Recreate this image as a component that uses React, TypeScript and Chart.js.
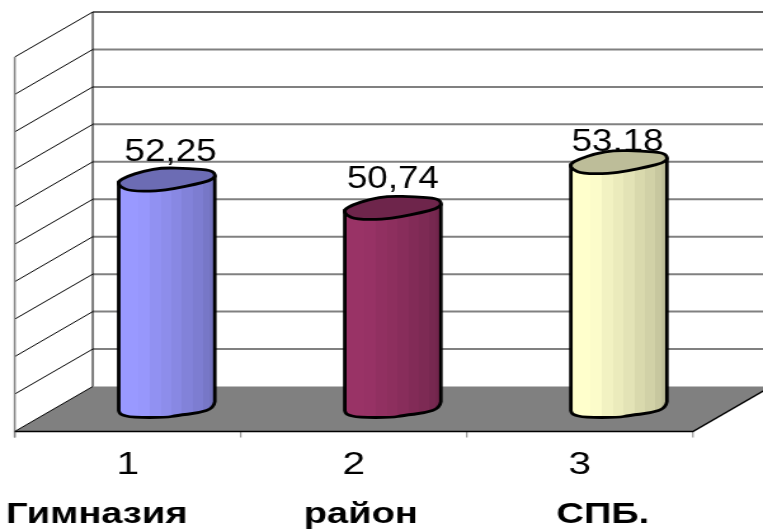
import React, { useEffect, useRef } from "react";
import { Chart, registerables } from "chart.js";

Chart.register(...registerables);

const tickLabels = ["1", "2", "3"];
const categoryNames = ["Гимназия", "район", "СПБ."];
const values = [52.25, 50.74, 53.18];
const sideColors = ["#9999FF", "#993366", "#FFFFCC"];
const rimColors = ["#6C6CB4", "#6E254B", "#BDBD99"];
const axisMin = 40;
const axisMax = 60;
const axisStep = 2;

// picture is drawn narrower, then stretched sideways, as the reference is
const OUT_W = 763;
const OUT_H = 529;
const CANVAS_W = 601;
const SX = OUT_W / CANVAS_W;
const DEPTH_X = 78 / SX;
const DEPTH_Y = 45;
const FONT = '"Liberation Sans", Arial, sans-serif';
const VALUE_TEXT_WIDTH = 72.5;

const valueLabelShift = [[3, -19], [0, -20], [-1, -11]];
const nameShift = [-31 / SX, 7 / SX, 23 / SX];

// hand-drawn looking rims: [fraction of half width, px from centre]
const topRim = [
  [-1.02, 2], [-0.84, -3], [-0.49, -8.5], [-0.08, -12], [0.47, -11], [0.94, -9.5], [1.03, -3.5],
  [0.9, 1], [0.61, 4.5], [0.16, 9], [-0.21, 11.5], [-0.76, 11.5], [-0.98, 7],
];
const bottomRim = [
  [1, -7.3], [0.98, -1], [0.67, 4], [0.2, 6.5], [0, 8.5], [-0.72, 8.5], [-0.97, 5.5], [-1, 1.7],
];
const bandStops = [0, 0.1, 0.2, 0.32, 0.44, 0.55, 0.66, 0.77, 0.88, 0.94, 1];
const bandShade = [1, 1, 0.99, 0.95, 0.92, 0.89, 0.85, 0.82, 0.78, 0.75];

function shade(hex: string, k: number) {
  const n = parseInt(hex.slice(1), 16);
  const r = Math.round(((n >> 16) & 255) * k);
  const g = Math.round(((n >> 8) & 255) * k);
  const b = Math.round((n & 255) * k);
  return `rgb(${r},${g},${b})`;
}

const scenePlugin = {
  id: "scene",
  beforeDatasetsDraw(chart: any) {
    const { ctx, chartArea: a, scales } = chart;
    const y = scales.y;
    const x = scales.x;
    ctx.save();
    ctx.lineCap = "butt";
    // floor
    ctx.fillStyle = "#808080";
    ctx.beginPath();
    ctx.moveTo(a.left, a.bottom);
    ctx.lineTo(a.left + DEPTH_X, a.bottom - DEPTH_Y);
    ctx.lineTo(a.right + DEPTH_X, a.bottom - DEPTH_Y);
    ctx.lineTo(a.right, a.bottom);
    ctx.closePath();
    ctx.fill();
    // wall grid
    y.ticks.forEach((t: any) => {
      const py = y.getPixelForValue(t.value);
      const isFloor = t.value === axisMin;
      const isTop = t.value === axisMax;
      if (!isFloor) {
        ctx.strokeStyle = isTop ? "#303030" : "#808080";
        ctx.lineWidth = isTop ? 1.5 : 2;
        ctx.beginPath();
        ctx.moveTo(a.left + DEPTH_X, py - DEPTH_Y);
        ctx.lineTo(CANVAS_W, py - DEPTH_Y);
        ctx.stroke();
      }
      ctx.strokeStyle = "#000000";
      ctx.lineWidth = 1;
      ctx.beginPath();
      ctx.moveTo(a.left, py);
      ctx.lineTo(a.left + DEPTH_X, py - DEPTH_Y);
      ctx.stroke();
    });
    // back corner and front left edge
    ctx.strokeStyle = "#000000";
    ctx.lineWidth = 1;
    ctx.beginPath();
    ctx.moveTo(a.left + DEPTH_X, a.top - DEPTH_Y);
    ctx.lineTo(a.left + DEPTH_X, a.bottom - DEPTH_Y);
    ctx.stroke();
    ctx.strokeStyle = "#808080";
    ctx.lineWidth = 1.5;
    ctx.beginPath();
    ctx.moveTo(a.left, a.top);
    ctx.lineTo(a.left, a.bottom + 6);
    ctx.stroke();
    // front floor edges and ticks
    const catW = (a.right - a.left) / tickLabels.length;
    ctx.lineWidth = 1;
    for (let i = 0; i <= tickLabels.length; i++) {
      const tx = a.left + catW * i;
      ctx.beginPath();
      ctx.moveTo(tx, a.bottom);
      ctx.lineTo(tx, a.bottom + 6);
      ctx.stroke();
    }
    ctx.strokeStyle = "#000000";
    ctx.lineWidth = 1.5;
    ctx.beginPath();
    ctx.moveTo(a.left, a.bottom);
    ctx.lineTo(a.right, a.bottom);
    ctx.lineTo(a.right + DEPTH_X, a.bottom - DEPTH_Y);
    ctx.stroke();
    // value labels sit behind the cylinders
    const meta = chart.getDatasetMeta(0);
    ctx.fillStyle = "#000000";
    ctx.font = `32px ${FONT}`;
    ctx.textAlign = "center";
    ctx.textBaseline = "alphabetic";
    meta.data.forEach((el: any, i: number) => {
      ctx.fillText(
        values[i].toFixed(2).replace(".", ","),
        el.x + DEPTH_X / 2 + valueLabelShift[i][0],
        el.y - DEPTH_Y / 2 + valueLabelShift[i][1],
        VALUE_TEXT_WIDTH
      );
    });
    // second row of category names
    ctx.font = `bold 30px ${FONT}`;
    categoryNames.forEach((name, i) => {
      ctx.fillText(name, x.getPixelForValue(i) + nameShift[i], 523);
    });
    ctx.restore();
  },
  afterDatasetsDraw(chart: any) {
    const { ctx, scales } = chart;
    const meta = chart.getDatasetMeta(0);
    const basePx = scales.y.getPixelForValue(axisMin);
    ctx.save();
    meta.data.forEach((el: any, i: number) => {
      const cx = el.x + DEPTH_X / 2;
      const hw = el.width / 2;
      const topY = el.y - DEPTH_Y / 2;
      const botY = basePx - DEPTH_Y / 2;
      const grad = ctx.createLinearGradient(cx - hw, 0, cx + hw, 0);
      bandShade.forEach((k, b) => {
        const c = shade(sideColors[i], k);
        grad.addColorStop(bandStops[b], c);
        grad.addColorStop(bandStops[b + 1], c);
      });
      ctx.lineJoin = "round";
      ctx.strokeStyle = "#000000";
      ctx.lineWidth = 2.8;
      // body, with a rounded foot
      const foot = bottomRim.map(([f, d]) => [cx + f * hw, botY + d]);
      ctx.beginPath();
      ctx.moveTo(cx - hw, topY + 2);
      ctx.lineTo(cx + hw, topY - 3.5);
      ctx.lineTo(foot[0][0], foot[0][1]);
      for (let k = 1; k < foot.length - 1; k++) {
        const mx = (foot[k][0] + foot[k + 1][0]) / 2;
        const my = (foot[k][1] + foot[k + 1][1]) / 2;
        ctx.quadraticCurveTo(foot[k][0], foot[k][1], mx, my);
      }
      ctx.lineTo(foot[foot.length - 1][0], foot[foot.length - 1][1]);
      ctx.closePath();
      ctx.fillStyle = grad;
      ctx.fill();
      ctx.stroke();
      // top cap, smoothed through the midpoints of its outline
      const cap = topRim.map(([f, d]) => [cx + f * hw, topY + d]);
      const n = cap.length;
      ctx.beginPath();
      ctx.moveTo((cap[n - 1][0] + cap[0][0]) / 2, (cap[n - 1][1] + cap[0][1]) / 2);
      for (let k = 0; k < n; k++) {
        const next = cap[(k + 1) % n];
        ctx.quadraticCurveTo(cap[k][0], cap[k][1], (cap[k][0] + next[0]) / 2, (cap[k][1] + next[1]) / 2);
      }
      ctx.closePath();
      ctx.fillStyle = rimColors[i];
      ctx.fill();
      ctx.stroke();
    });
    ctx.restore();
  },
};

export default function App() {
  const ref = useRef<HTMLCanvasElement>(null);
  useEffect(() => {
    const chart = new Chart(ref.current as HTMLCanvasElement, {
      type: "bar",
      data: {
        labels: tickLabels,
        datasets: [
          {
            data: values,
            backgroundColor: "rgba(0,0,0,0)",
            borderWidth: 0,
            barPercentage: 0.425,
            categoryPercentage: 1,
          },
        ],
      },
      options: {
        animation: false,
        responsive: false,
        devicePixelRatio: 1,
        layout: { padding: { left: 11.6, right: 55.2, top: 57, bottom: 29.5 } },
        plugins: { legend: { display: false }, tooltip: { enabled: false } },
        scales: {
          x: {
            grid: { display: false, drawTicks: false },
            border: { display: false },
            ticks: { color: "#000000", padding: 14.8, font: { family: FONT, size: 32 }, maxRotation: 0 },
          },
          y: {
            display: false,
            min: axisMin,
            max: axisMax,
            ticks: { stepSize: axisStep },
          },
        },
      },
      plugins: [scenePlugin],
    } as any);
    return () => chart.destroy();
  }, []);
  return (
    <div style={{ position: "fixed", left: 0, top: 0, width: OUT_W, height: OUT_H, overflow: "hidden", background: "#fff" }}>
      <canvas
        ref={ref}
        width={CANVAS_W}
        height={OUT_H}
        style={{ display: "block", transformOrigin: "0 0", transform: `scaleX(${SX})` }}
      />
    </div>
  );
}
